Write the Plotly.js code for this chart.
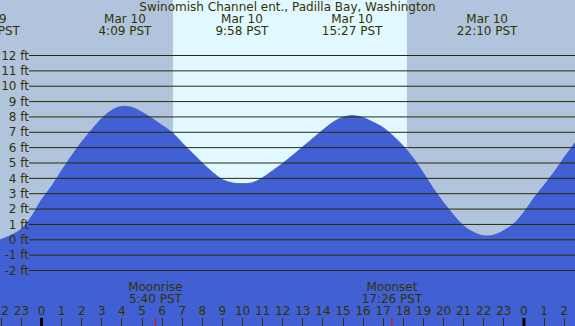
<!DOCTYPE html>
<html>
<head>
<meta charset="utf-8">
<script src="https://cdn.plot.ly/plotly-3.0.1.min.js"></script>
<style>html,body{margin:0;padding:0;background:#b0c4de;}#chart{width:575px;height:326px;}</style>
</head>
<body>
<div id="chart"></div>
<script>
// ---- data ----
// water level (ft) at half-hour steps, hours counted from midnight Mar 10 (PST)
const tideHours = [-2.065, -2.0, -1.5, -1.0, -0.5, 0.0, 0.5, 1.0, 1.5, 2.0, 2.5, 3.0, 3.5, 4.0, 4.5, 5.0, 5.5, 6.0, 6.5, 7.0, 7.5, 8.0, 8.5, 9.0, 9.5, 10.0, 10.5, 11.0, 11.5, 12.0, 12.5, 13.0, 13.5, 14.0, 14.5, 15.0, 15.5, 16.0, 16.5, 17.0, 17.5, 18.0, 18.5, 19.0, 19.5, 20.0, 20.5, 21.0, 21.5, 22.0, 22.5, 23.0, 23.5, 24.0, 24.5, 25.0, 25.5, 26.0, 26.5, 26.54];
const tideFeet  = [0.0, 0.03, 0.3, 0.7, 1.5, 2.6, 3.48, 4.5, 5.47, 6.37, 7.17, 7.9, 8.44, 8.68, 8.62, 8.3, 7.9, 7.45, 6.98, 6.3, 5.65, 5.0, 4.4, 3.92, 3.7, 3.65, 3.72, 4.04, 4.5, 4.97, 5.5, 6.05, 6.6, 7.15, 7.65, 7.98, 8.08, 7.95, 7.65, 7.3, 6.75, 6.1, 5.3, 4.33, 3.32, 2.42, 1.6, 0.9, 0.48, 0.26, 0.3, 0.6, 1.05, 1.8, 2.72, 3.55, 4.4, 5.35, 6.25, 6.33];

const extremeHours = [-2.58, 4.15, 9.97, 15.45, 22.17];
const extremeDates = ['Mar 9', 'Mar 10', 'Mar 10', 'Mar 10', 'Mar 10'];
const extremeTimes = ['21:25 PST', '4:09 PST', '9:58 PST', '15:27 PST', '22:10 PST'];

const moonHours  = [5.667, 17.433];
const moonEvents = ['Moonrise', 'Moonset'];
const moonTimes  = ['5:40 PST', '17:26 PST'];

const daylight  = [6.54, 18.18];   // sunrise, sunset
const midnights = [0, 24];

const hourTicks  = [-2, -1, 0, 1, 2, 3, 4, 5, 6, 7, 8, 9, 10, 11, 12, 13, 14, 15, 16, 17, 18, 19, 20, 21, 22, 23, 24, 25, 26];
const hourLabels = ['22', '23', '0', '1', '2', '3', '4', '5', '6', '7', '8', '9', '10', '11', '12', '13', '14', '15', '16', '17', '18', '19', '20', '21', '22', '23', '0', '1', '2'];
const heightTicks  = [-2, -1, 0, 1, 2, 3, 4, 5, 6, 7, 8, 9, 10, 11, 12];
const heightLabels = ['-2 ft', '-1 ft', '0 ft', '1 ft', '2 ft', '3 ft', '4 ft', '5 ft', '6 ft', '7 ft', '8 ft', '9 ft', '10 ft', '11 ft', '12 ft'];

// ---- styling ----
const W = 575, H = 326;
const xRange = [-2.065, 26.54];
const yRange = [-5.614, 15.614];
const FONT = 'DejaVu Sans';
const TXT = '#333300';
const NIGHT = '#b0c4de';
const DAY = '#e0f8ff';
const WATER = '#4160d4';
const row = px => 1 - px / H;
const textFont = {family: FONT, size: 12, color: TXT};

function textRow(xs, labels, px) {
  return {x: xs, y: xs.map(() => row(px)), yaxis: 'y2', mode: 'text', text: labels,
          textposition: 'middle center', textfont: textFont, hoverinfo: 'skip'};
}

const traces = [
  {x: [tideHours[0], tideHours[tideHours.length - 1]], y: [yRange[0] - 1, yRange[0] - 1],
   mode: 'lines', line: {width: 0, color: WATER}, hoverinfo: 'skip'},
  {x: tideHours, y: tideFeet, mode: 'lines', fill: 'tonexty', fillcolor: WATER,
   line: {shape: 'spline', smoothing: 1, color: WATER, width: 1}, hoverinfo: 'skip'},
  textRow(extremeHours, extremeDates, 19.5),
  textRow(extremeHours, extremeTimes, 31.8),
  textRow(moonHours, moonEvents, 287.5),
  textRow(moonHours, moonTimes, 299.7),
  textRow(hourTicks, hourLabels, 311.7)
];

const shapes = [];
shapes.push({type: 'rect', xref: 'x', yref: 'paper', x0: daylight[0], x1: daylight[1], y0: 0, y1: 1,
  fillcolor: DAY, line: {width: 0}, layer: 'below'});
heightTicks.forEach(v => shapes.push({type: 'line', xref: 'paper', yref: 'y', x0: 29 / W, x1: 1, y0: v, y1: v,
  line: {color: '#2a2a00', width: 1}, layer: 'above'}));
midnights.forEach(v => shapes.push({type: 'line', xref: 'x', yref: 'paper', x0: v, x1: v, y0: 0, y1: 8 / H,
  line: {color: '#000000', width: 3}, layer: 'above'}));
moonHours.forEach(v => shapes.push({type: 'line', xref: 'x', yref: 'paper', x0: v, x1: v, y0: 0, y1: 8 / H,
  line: {color: '#ff0000', width: 1}, layer: 'above'}));

const layout = {
  width: W, height: H,
  margin: {l: 0, r: 0, t: 0, b: 0, pad: 0},
  paper_bgcolor: NIGHT, plot_bgcolor: NIGHT,
  showlegend: false,
  font: textFont,
  title: {text: 'Swinomish Channel ent., Padilla Bay, Washington', x: 0.5, xanchor: 'center',
          y: row(7), yanchor: 'middle', yref: 'paper', font: textFont},
  xaxis: {range: xRange, tickmode: 'array', tickvals: hourTicks,
          ticks: 'inside', ticklen: 8, tickwidth: 1, tickcolor: TXT,
          showticklabels: false, showgrid: false, zeroline: false, showline: false, fixedrange: true},
  yaxis: {range: yRange, tickmode: 'array', tickvals: heightTicks, ticktext: heightLabels,
          anchor: 'free', position: 29 / W, side: 'left', ticks: '',
          showgrid: false, zeroline: false, showline: false,
          tickfont: textFont, fixedrange: true},
  yaxis2: {range: [0, 1], overlaying: 'y', visible: false, fixedrange: true},
  shapes: shapes
};

Plotly.newPlot('chart', traces, layout, {staticPlot: true, displayModeBar: false});
</script>
</body>
</html>
